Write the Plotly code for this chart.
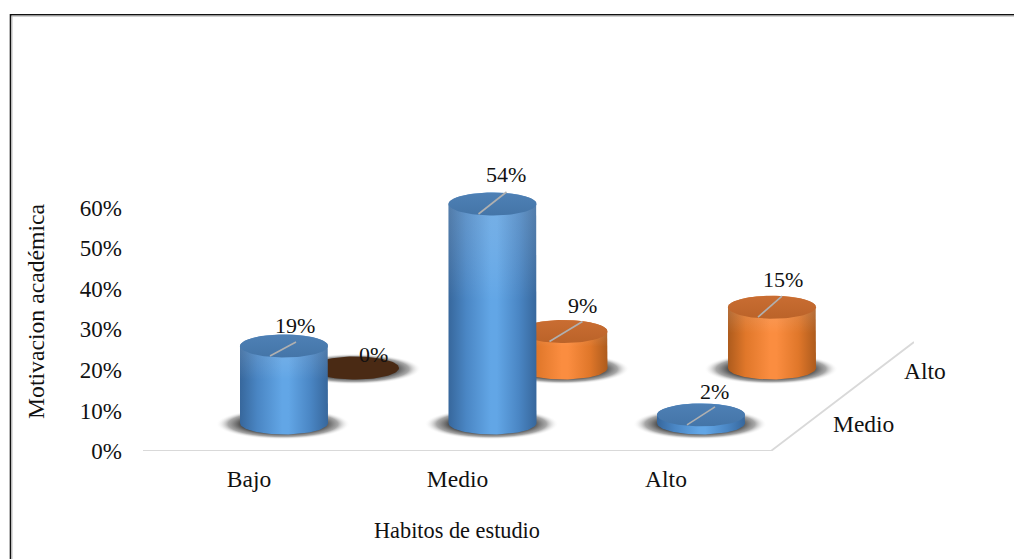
import numpy as np
import plotly.graph_objects as go

# ---- data ----
categories = ["Bajo", "Medio", "Alto"]
depth_labels = ["Medio", "Alto"]
front_values = [19, 54, 2]      # series "Medio" (blue)
back_values = [0, 9, 15]        # series "Alto" (orange)
y_ticks = [0, 10, 20, 30, 40, 50, 60]
y_labels = ["0%", "10%", "20%", "30%", "40%", "50%", "60%"]

# ---- page geometry ----
W, H = 1014, 559
ML, MR, MT, MB = 143, 100, 159, 108
PW, PH = W - ML - MR, H - MT - MB
X0, X1 = -(249 - 143) / 208.5, (914 - 249) / 208.5
Y1 = 72
px_x = (X1 - X0) / PW
px_y = Y1 / PH

RX, RY = 44 * px_x, 11.5 * px_y
FRONT_DX, FRONT_BASE = 35 * px_x, 28 * px_y
BACK_DX, BACK_BASE = 106 * px_x, 83 * px_y

FONT = "Liberation Serif"
TXT = "#111111"

BLUE = dict(edge="#37679c", e2="#4a86c4", mid="#62a6e6", top="#4e80b5", top2="#4475a8")
ORANGE = dict(edge="#ad5b1d", e2="#e0772a", mid="#fb8d40", top="#c96d32", top2="#bb6329")
BROWN = "#4a2a14"

t = np.linspace(0, 2 * np.pi, 90)
fig = go.Figure()


def pxx(p):
    return (p - ML) / PW


def pxy(p):
    return 1 - (p - MT) / PH


def ellipse(cx, cy, rx, ry):
    return cx + rx * np.cos(t), cy + ry * np.sin(t)


def shadow(cx, cy):
    x, y = ellipse(cx - 1 * px_x, cy - 1 * px_y, 67 * px_x, 15.5 * px_y)
    fig.add_trace(go.Scatter(
        x=x, y=y, mode="lines", line=dict(width=0), fill="toself",
        fillcolor="rgba(0,0,0,0)", hoverinfo="skip", showlegend=False,
        fillgradient=dict(type="radial", colorscale=[
            [0, "rgba(35,35,35,1)"], [0.6, "rgba(50,50,50,0.95)"],
            [0.82, "rgba(110,110,110,0.6)"], [1, "rgba(255,255,255,0)"]])))


def cylinder(cx, base, value, pal):
    top = base + value
    a = np.linspace(np.pi, 2 * np.pi, 50)      # lower half of the base
    b = np.linspace(0, np.pi, 50)              # upper half of the top
    x = np.r_[cx + RX * np.cos(a), cx + RX * np.cos(b)]
    y = np.r_[base + RY * np.sin(a), top + RY * np.sin(b)]
    fig.add_trace(go.Scatter(
        x=x, y=y, mode="lines", line=dict(width=0), fill="toself",
        fillcolor=pal["mid"], hoverinfo="skip", showlegend=False,
        fillgradient=dict(type="horizontal", colorscale=[
            [0, pal["edge"]], [0.2, pal["e2"]], [0.48, pal["mid"]], [0.55, pal["mid"]],
            [0.8, pal["e2"]], [1, pal["edge"]]])))
    # soft pale veil near the top of the body
    if value > 5:
        fig.add_trace(go.Scatter(
            x=x, y=y, mode="lines", line=dict(width=0), fill="toself",
            fillcolor="rgba(0,0,0,0)", hoverinfo="skip", showlegend=False,
            fillgradient=dict(type="vertical", colorscale=[
                [0, "rgba(255,255,255,0)"], [0.55, "rgba(255,255,255,0)"],
                [1, "rgba(190,205,220,0.22)"]])))
    ex, ey = ellipse(cx, top, RX, RY)
    fig.add_trace(go.Scatter(
        x=ex, y=ey, mode="lines", line=dict(width=0), fill="toself",
        fillcolor=pal["top"], hoverinfo="skip", showlegend=False,
        fillgradient=dict(type="vertical", colorscale=[
            [0, pal["top2"]], [1, pal["top"]]])))


def leader(cx, top, dx_end, dy_end):
    fig.add_trace(go.Scatter(
        x=[cx - 14 * px_x, cx + dx_end * px_x],
        y=[top - 10 * px_y, top + dy_end * px_y],
        mode="lines", line=dict(color="#b0b0b0", width=1.6),
        hoverinfo="skip", showlegend=False))


# floor lines
fig.add_trace(go.Scatter(
    x=[X0, (771 - 249) / 208.5, X1], y=[0, 0, (451 - 342) * px_y],
    mode="lines", line=dict(color="#d9d9d9", width=1.8),
    hoverinfo="skip", showlegend=False))

# back row
back_offsets = [(18, -14, None), (19, -26, (19, 10)), (11, -28, (10, 11))]
for i, v in enumerate(back_values):
    cx = i + BACK_DX
    shadow(cx, BACK_BASE)
    if v == 0:
        ex, ey = ellipse(cx, BACK_BASE, RX, RY)
        fig.add_trace(go.Scatter(x=ex, y=ey, mode="lines", line=dict(width=0), fill="toself",
                                 fillcolor=BROWN, hoverinfo="skip", showlegend=False))
    else:
        cylinder(cx, BACK_BASE, v, ORANGE)
    le = back_offsets[i][2]
    if le:
        leader(cx, BACK_BASE + v, le[0], le[1])

# front row
front_offsets = [(11, -20, (12, 4)), (13, -30, (14, 12)), (13, -23, (14, 8))]
for i, v in enumerate(front_values):
    cx = i + FRONT_DX
    shadow(cx, FRONT_BASE)
    cylinder(cx, FRONT_BASE, v, BLUE)
    le = front_offsets[i][2]
    leader(cx, FRONT_BASE + v, le[0], le[1])

annotations = []
for vals, dx, base, offs in [(back_values, BACK_DX, BACK_BASE, back_offsets),
                             (front_values, FRONT_DX, FRONT_BASE, front_offsets)]:
    for i, v in enumerate(vals):
        annotations.append(dict(
            x=i + dx, y=base + v, text=f"{v}%", showarrow=False,
            xshift=offs[i][0], yshift=-offs[i][1],
            font=dict(family=FONT, size=22, color=TXT), xanchor="center", yanchor="middle"))

# depth axis labels
for lab, px, py in zip(depth_labels, (863, 925), (424, 371)):
    annotations.append(dict(x=pxx(px), y=pxy(py), xref="paper", yref="paper", text=lab, showarrow=False,
                            font=dict(family=FONT, size=23.5, color=TXT), xanchor="center", yanchor="middle"))

# axis titles
annotations.append(dict(x=pxx(457), y=pxy(530), xref="paper", yref="paper", text="Habitos de estudio",
                        showarrow=False, font=dict(family=FONT, size=22.3, color=TXT),
                        xanchor="center", yanchor="middle"))
annotations.append(dict(x=pxx(36), y=pxy(311), xref="paper", yref="paper", text="Motivacion académica",
                        showarrow=False, textangle=-90, font=dict(family=FONT, size=23.7, color=TXT),
                        xanchor="center", yanchor="middle"))

fig.update_layout(
    width=W, height=H, margin=dict(l=ML, r=MR, t=MT, b=MB, autoexpand=False),
    paper_bgcolor="white", plot_bgcolor="white", showlegend=False,
    font=dict(family=FONT, size=22, color=TXT),
    annotations=annotations,
    xaxis=dict(range=[X0, X1], tickvals=[0, 1, 2], ticktext=categories, showgrid=False,
               zeroline=False, showline=False, ticks="", ticklabelstandoff=11, tickfont=dict(size=23.5)),
    yaxis=dict(range=[0, Y1], tickvals=y_ticks, ticktext=y_labels, showgrid=False,
               zeroline=False, showline=False, ticks="", ticklabelstandoff=20, tickfont=dict(size=23)),
    shapes=[
        dict(type="line", xref="paper", yref="paper", x0=pxx(10.5), x1=pxx(1014), y0=pxy(14.8), y1=pxy(14.8),
             line=dict(color="#111111", width=1.6), layer="below"),
        dict(type="line", xref="paper", yref="paper", x0=pxx(11), x1=pxx(1014), y0=pxy(16.2), y1=pxy(16.2),
             line=dict(color="#bdbdbd", width=1), layer="below"),
        dict(type="line", xref="paper", yref="paper", x0=pxx(10.5), x1=pxx(10.5), y0=pxy(14), y1=pxy(559),
             line=dict(color="#111111", width=1.6), layer="below"),
        dict(type="line", xref="paper", yref="paper", x0=pxx(12), x1=pxx(12), y0=pxy(16), y1=pxy(559),
             line=dict(color="#bdbdbd", width=1), layer="below"),
    ],
)

fig.write_html("out.html", config={"displayModeBar": False},
               post_script="document.body.style.margin='0';document.body.style.overflow='hidden';")
